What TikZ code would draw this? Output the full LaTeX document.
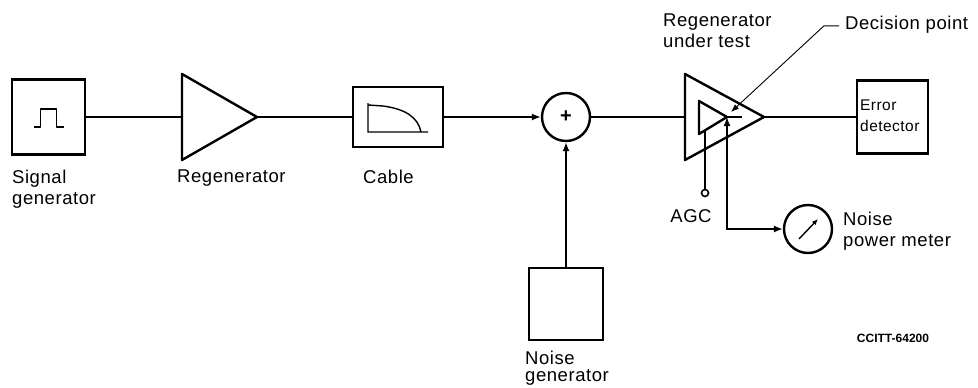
\documentclass[tikz,border=0pt]{standalone}
\usepackage{fontspec}
\setmainfont{Liberation Sans}
\usetikzlibrary{calc}
\usetikzlibrary{positioning}
\usetikzlibrary{arrows.meta}

\begin{document}
\begin{tikzpicture}[x=1pt, y=-1pt,
    blk/.style={draw, line width=2.4pt, inner sep=0pt},
    wire/.style={line width=1.4pt},
    lbl/.style={font=\fontsize{18.5}{21}\selectfont\addfontfeature{LetterSpace=3}, align=left, inner sep=0pt},
    >={Latex[length=9pt,width=7pt]}]
  \useasboundingbox (0,0) rectangle (978,388);

  % blocks
  \node[blk, minimum width=73pt, minimum height=75pt] (sg) at (48.5,117) {};
  \draw[wire, line join=round, shift={(sg.center)}] (-15,10) -- (-8,10) -- (-8,-8) -- (8,-8) -- (8,10) -- (15,10);

  \coordinate (rg-in) at (182,117);
  \coordinate (rg-out) at (257,117);
  \draw[line width=2.4pt, line join=round] (182,74) -- (182,160) -- (rg-out) -- cycle;

  \node[blk, minimum width=90pt, minimum height=60pt] (cab) at (398,117) {};
  \draw[wire, shift={(cab.center)}] (-30,-14) -- (-30,15) -- (30,15)
    (-30,-12) -- (-15,-11) .. controls (7,-8) and (20,0) .. (23,15);

  \node[circle, draw, line width=2.4pt, minimum size=48pt, inner sep=0pt, font=\fontsize{20}{20}\selectfont\bfseries] (sum) at (566,117) {+};
  \node[blk, minimum width=74pt, minimum height=72pt] (ng) at (566,304) {};

  \coordinate (rut-in) at (685,117);
  \coordinate (rut-out) at (764,117);
  \draw[line width=2.4pt, line join=round] (685,74) -- (685,160) -- (rut-out) -- cycle;
  \draw[line width=2.4pt, line join=round] (699,101) -- (699,134) -- (727,117) -- cycle;
  \coordinate (dp) at (727,117);
  \draw[wire] (dp) -- (742,117);

  \node[blk, minimum width=71pt, minimum height=73pt] (ed) at (892.5,117) {};
  \node[lbl, font=\fontsize{15.5}{21}\selectfont\addfontfeature{LetterSpace=3}, anchor=north west] at (860,100) {Error\\detector};

  \node[circle, draw, line width=1.6pt, minimum size=7pt, inner sep=0pt] (agc) at (705,193) {};
  \node[circle, draw, line width=2.4pt, minimum size=48pt, inner sep=0pt] (npm) at (808,229) {};
  \draw[wire, -{Latex[length=6pt,width=5pt]}] ($(npm)+(-9,10)$) -- ($(npm)+(10,-10)$);

  % connections
  \draw[wire] (sg.east) -- (rg-in);
  \draw[wire] (rg-out) -- (cab.west);
  \draw[wire, ->] (cab.east) -- (sum.west);
  \draw[wire, ->] (ng.north) -- (sum.south);
  \draw[wire] (sum.east) -- (rut-in);
  \draw[wire] (rut-out) -- (ed.west);
  \draw[wire] (705,130.4) -- (agc.north);
  \draw[wire, <->] (dp) -- (dp |- npm) -- (npm.west);

  % labels
  \node[lbl, anchor=north west] at (12,170) {Signal\\generator};
  \node[lbl, anchor=north west] at (177,170) {Regenerator};
  \node[lbl, anchor=north west] at (363,170) {Cable};
  \node[lbl, font=\fontsize{18.5}{17}\selectfont\addfontfeature{LetterSpace=3}, anchor=north west] at (525,351) {Noise\\generator};
  \node[lbl, anchor=north west] at (663,14) {Regenerator\\under test};
  \node[lbl, anchor=north west] (dlbl) at (845,16) {Decision point};
  \node[lbl] at (691,216.5) {AGC};
  \node[lbl, anchor=north west] at (843,212) {Noise\\power meter};
  \node[font=\fontsize{12}{14}\selectfont\bfseries, inner sep=0pt] at (893,338) {CCITT-64200};

  \coordinate (dtip) at (731,112);
  \draw[line width=0.9pt, -{Latex[length=8pt,width=6pt]}] ([xshift=-6pt,yshift=-1pt]dlbl.west) -- ++(-15,0) -- (dtip);
\end{tikzpicture}
\end{document}
